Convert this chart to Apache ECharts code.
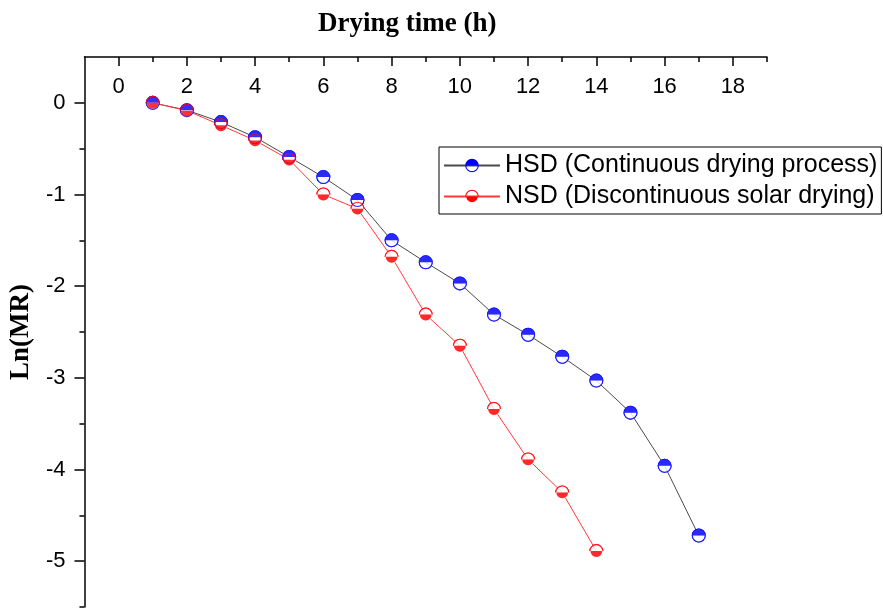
<!DOCTYPE html>
<html>
<head>
<meta charset="utf-8">
<script src="https://cdn.jsdelivr.net/npm/echarts@6/dist/echarts.min.js"></script>
<style>
  html, body { margin: 0; padding: 0; background: #fff; }
  #chart { width: 883px; height: 608px; }
</style>
</head>
<body>
<div id="chart"></div>
<script>
// drying time (h) for each measured point
const hsdTime = [1, 2, 3, 4, 5, 6, 7, 8, 9, 10, 11, 12, 13, 14, 15, 16, 17]
const hsdLnMR = [0, -0.08, -0.21, -0.375, -0.59, -0.81, -1.06, -1.5, -1.74, -1.97, -2.31, -2.53, -2.77, -3.03, -3.38, -3.96, -4.72]
const nsdTime = [1, 2, 3, 4, 5, 6, 7, 8, 9, 10, 11, 12, 13, 14]
const nsdLnMR = [0, -0.085, -0.245, -0.41, -0.62, -1.0, -1.155, -1.68, -2.31, -2.65, -3.34, -3.89, -4.25, -4.89]

const xMajorTicks = [0, 2, 4, 6, 8, 10, 12, 14, 16, 18]
const xMinorTicks = [1, 3, 5, 7, 9, 11, 13, 15, 17, 19]
const yMajorTicks = [0, -1, -2, -3, -4, -5]
const yMinorTicks = [-0.5, -1.5, -2.5, -3.5, -4.5, -5.5]

const names = ['HSD (Continuous drying process)', 'NSD (Discontinuous solar drying)']

// ring + one filled half (Origin's "half up" / "half down" circles)
const RING = 'M0,10 A10,10 0 1 1 20,10 A10,10 0 1 1 0,10 Z M1.6,10 A8.4,8.4 0 1 0 18.4,10 A8.4,8.4 0 1 0 1.6,10 Z '
const HALF_TOP = 'path://' + RING + 'M0,10 A10,10 0 0 1 20,10 Z'
const HALF_BOTTOM = 'path://' + RING + 'M0,10 A10,10 0 0 0 20,10 Z'

const pairs = (xs, ys) => xs.map((x, i) => [x, ys[i]])
const SANS = 'Liberation Sans, Arial, sans-serif'
const SERIF = 'Liberation Serif, Times New Roman, serif'
const BLACK_LINE = { color: '#000', width: 1.5 }

function group(name, data, symbol, color, lineColor) {
  return [
    {
      name,
      type: 'line',
      data,
      symbol,
      symbolSize: 14,
      itemStyle: { color },
      lineStyle: { color: lineColor, width: 1 },
      z: 2,
    },
    // white backing so the empty half hides the line
    {
      type: 'scatter',
      data,
      symbol: 'circle',
      symbolSize: 13,
      itemStyle: { color: '#fff' },
      silent: true,
      z: 3,
    },
    {
      type: 'scatter',
      data,
      symbol,
      symbolSize: 14,
      itemStyle: { color },
      silent: true,
      z: 4,
    },
  ]
}

const chart = echarts.init(document.getElementById('chart'))

chart.setOption({
  animation: false,
  title: {
    text: 'Drying time (h)',
    left: 313,
    top: 6,
    textStyle: { fontFamily: SERIF, fontWeight: 'bold', fontSize: 27, color: '#000' },
  },
  legend: {
    data: names,
    orient: 'vertical',
    left: 439,
    top: 147,
    itemWidth: 56,
    itemHeight: 17,
    itemGap: 6,
    padding: [6, 4, 5, 4],
    borderColor: '#000',
    borderWidth: 1,
    selectedMode: false,
    textStyle: { fontFamily: SANS, fontSize: 25, color: '#000' },
  },
  grid: { left: 83, right: 116, top: 57, bottom: 1 },
  xAxis: [
    {
      type: 'value',
      position: 'top',
      min: -1,
      max: 19,
      axisLine: { onZero: false, lineStyle: BLACK_LINE },
      axisTick: { customValues: xMajorTicks, inside: true, length: 9, lineStyle: BLACK_LINE },
      axisLabel: { customValues: xMajorTicks, inside: true, margin: 19, fontFamily: SANS, fontSize: 22, color: '#000' },
      splitLine: { show: false },
    },
    {
      type: 'value',
      position: 'top',
      min: -1,
      max: 19,
      axisLine: { show: false, onZero: false },
      axisTick: { customValues: xMinorTicks, inside: true, length: 5, lineStyle: BLACK_LINE },
      axisLabel: { show: false },
      splitLine: { show: false },
    },
  ],
  yAxis: [
    {
      type: 'value',
      position: 'left',
      min: -5.5,
      max: 0.5,
      name: 'Ln(MR)',
      nameLocation: 'middle',
      nameRotate: 90,
      nameGap: 42,
      nameTextStyle: { fontFamily: SERIF, fontWeight: 'bold', fontSize: 27, color: '#000' },
      axisLine: { onZero: false, lineStyle: BLACK_LINE },
      axisTick: { customValues: yMajorTicks, length: 10, lineStyle: BLACK_LINE },
      axisLabel: { customValues: yMajorTicks, margin: 19, fontFamily: SANS, fontSize: 22, color: '#000' },
      splitLine: { show: false },
    },
    {
      type: 'value',
      position: 'left',
      min: -5.5,
      max: 0.5,
      axisLine: { show: false, onZero: false },
      axisTick: { customValues: yMinorTicks, length: 5, lineStyle: BLACK_LINE },
      axisLabel: { show: false },
      splitLine: { show: false },
    },
  ],
  series: [
    ...group(names[0], pairs(hsdTime, hsdLnMR), HALF_TOP, '#0000ff', '#4a4a4a'),
    ...group(names[1], pairs(nsdTime, nsdLnMR), HALF_BOTTOM, '#ff0000', '#ff3a3a'),
  ],
})
</script>
</body>
</html>
